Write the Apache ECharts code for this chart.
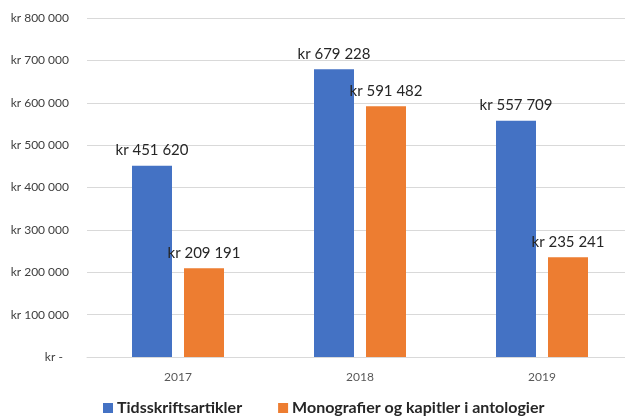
<!DOCTYPE html>
<html>
<head>
<meta charset="utf-8">
<script src="https://cdn.jsdelivr.net/npm/echarts@6/dist/echarts.min.js"></script>
<style>
  html, body { margin: 0; padding: 0; background: #ffffff; overflow: hidden; }
  #chart { width: 633px; height: 419px; }
</style>
</head>
<body>
<div id="chart"></div>
<script>
// Funding per publication type, NOK
const years = ['2017', '2018', '2019'];
const articles = [451620, 679228, 557709];
const monographs = [209191, 591482, 235241];
const seriesNames = ['Tidsskriftsartikler', 'Monografier og kapitler i antologier'];
const yTicks = [0, 100000, 200000, 300000, 400000, 500000, 600000, 700000, 800000];

const FONT = 'Lato, "Liberation Sans", sans-serif';

// "kr 451 620" style with space as thousands separator
function groupDigits(v, sep) {
  return String(Math.round(v)).replace(/\B(?=(\d{3})+(?!\d))/g, sep);
}
function krLabel(v) { return 'kr ' + groupDigits(v, ' '); }
function krTick(v) { return v === 0 ? 'kr -  ' : 'kr ' + groupDigits(v, ' '); }

const chart = echarts.init(document.getElementById('chart'), null, { renderer: 'canvas' });

const labelStyle = {
  show: true,
  position: 'top',
  distance: 8,
  fontFamily: FONT,
  fontSize: 15,
  color: '#262626',
  formatter: p => krLabel(p.value)
};

chart.setOption({
  animation: false,
  backgroundColor: '#ffffff',
  grid: { left: 87, top: 18, right: 0, bottom: 62, containLabel: false },
  legend: {
    data: seriesNames,
    left: 103,
    top: 400,
    padding: 0,
    itemWidth: 10,
    itemHeight: 10,
    itemGap: 36,
    icon: 'rect',
    textStyle: { fontFamily: FONT, fontSize: 16, fontWeight: 'bold', color: '#262626', padding: [0, 0, 0, -1] }
  },
  xAxis: {
    type: 'category',
    data: years,
    axisLine: { show: true, lineStyle: { color: '#d9d9d9', width: 1 } },
    axisTick: { show: false },
    axisLabel: { fontFamily: FONT, fontSize: 12, color: '#595959', margin: 14 }
  },
  yAxis: {
    type: 'value',
    min: yTicks[0],
    max: yTicks[yTicks.length - 1],
    interval: yTicks[1] - yTicks[0],
    axisLine: { show: false },
    axisTick: { show: false },
    splitLine: { lineStyle: { color: '#d9d9d9', width: 1 } },
    axisLabel: { fontFamily: FONT, fontSize: 12, color: '#404040', margin: 18, formatter: krTick }
  },
  series: [
    {
      name: seriesNames[0],
      type: 'bar',
      data: articles,
      barWidth: 40,
      barGap: '30%',
      itemStyle: { color: '#4472C4' },
      label: labelStyle
    },
    {
      name: seriesNames[1],
      type: 'bar',
      data: monographs,
      barWidth: 40,
      itemStyle: { color: '#ED7D31' },
      label: labelStyle
    }
  ]
});
</script>
</body>
</html>
